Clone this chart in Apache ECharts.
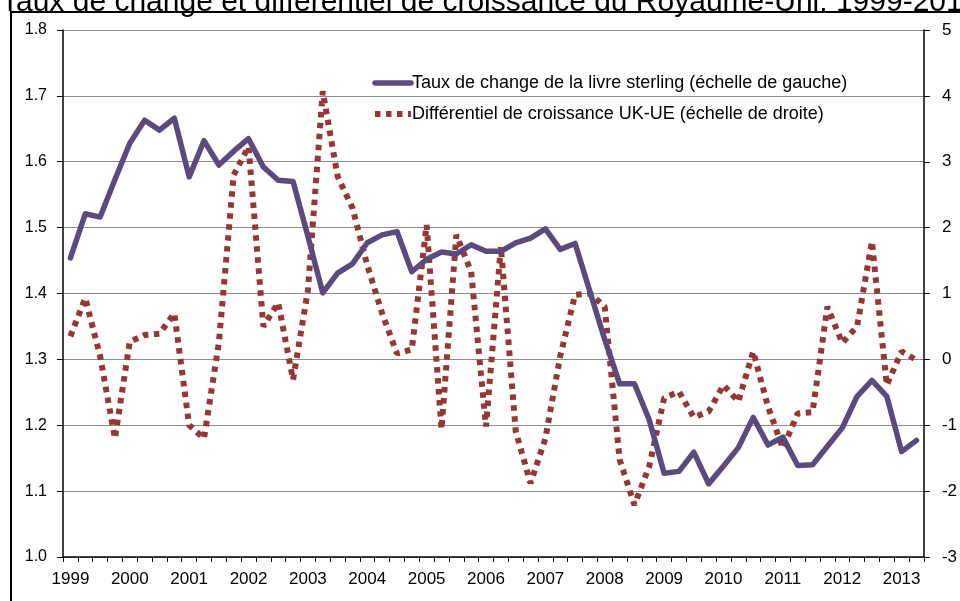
<!DOCTYPE html>
<html><head><meta charset="utf-8">
<script src="https://cdn.jsdelivr.net/npm/echarts@6/dist/echarts.min.js"></script>
<style>html,body{margin:0;padding:0;background:#fff;}#c{width:960px;height:601px;}</style>
</head><body><div id="c"></div>
<script>
const quarters = [
 '1999T1','1999T2','1999T3','1999T4','2000T1','2000T2','2000T3','2000T4',
 '2001T1','2001T2','2001T3','2001T4','2002T1','2002T2','2002T3','2002T4',
 '2003T1','2003T2','2003T3','2003T4','2004T1','2004T2','2004T3','2004T4',
 '2005T1','2005T2','2005T3','2005T4','2006T1','2006T2','2006T3','2006T4',
 '2007T1','2007T2','2007T3','2007T4','2008T1','2008T2','2008T3','2008T4',
 '2009T1','2009T2','2009T3','2009T4','2010T1','2010T2','2010T3','2010T4',
 '2011T1','2011T2','2011T3','2011T4','2012T1','2012T2','2012T3','2012T4',
 '2013T1','2013T2'];
const tauxChange = [
 1.454,1.521,1.516,1.573,1.628,1.663,1.648,1.666,
 1.577,1.632,1.595,1.616,1.635,1.592,1.572,1.570,
 1.487,1.401,1.431,1.445,1.477,1.489,1.494,1.433,
 1.452,1.463,1.460,1.474,1.464,1.464,1.477,1.484,
 1.498,1.467,1.476,1.403,1.330,1.263,1.263,1.208,
 1.127,1.130,1.159,1.111,1.138,1.166,1.212,1.170,
 1.182,1.139,1.140,1.168,1.196,1.244,1.268,1.244,
 1.160,1.177];
const differentiel = [
 0.35,0.93,0.05,-1.20,0.27,0.37,0.39,0.70,
 -1.00,-1.20,0.25,2.80,3.23,0.50,0.86,-0.31,
 1.05,4.07,2.78,2.30,1.43,0.70,0.09,0.15,
 2.04,-1.06,1.89,1.33,-1.02,1.71,-1.09,-1.88,
 -1.20,0.05,0.98,1.00,0.80,-1.52,-2.21,-1.62,
 -0.59,-0.49,-0.88,-0.79,-0.39,-0.64,0.12,-0.72,
 -1.35,-0.82,-0.80,0.80,0.25,0.50,1.79,-0.39,
 0.12,-0.01];
const leftTicks = {min:1.0, max:1.8, step:0.1};
const rightTicks = {min:-3, max:5, step:1};
const titleText = 'Taux de change et différentiel de croissance du Royaume-Uni: 1999-2013';
const seriesNames = ['Taux de change de la livre sterling (échelle de gauche)','Différentiel de croissance UK-UE (échelle de droite)'];

const FONT = '"Liberation Sans", Arial, sans-serif';
const PURPLE = '#5b4a7d', RED = '#953735';
const DOT = [5.5,5.5];
const chart = echarts.init(document.getElementById('c'), null, {renderer:'canvas'});
chart.setOption({
  backgroundColor:'#fff',
  animation:false,
  textStyle:{fontFamily:FONT},
  title:{text:titleText,left:1,top:-12,padding:0,textStyle:{fontSize:30,fontWeight:'normal',color:'#000',fontFamily:FONT}},
  graphic:[{type:'rect',z:-1,shape:{x:11,y:12,width:1100,height:1000},style:{fill:'none',stroke:'#000',lineWidth:2}}],
  legend:{
    orient:'vertical',left:372,top:74,padding:0,itemWidth:36,itemHeight:14,itemGap:13,
    itemStyle:{opacity:0},
    textStyle:{fontSize:18,color:'#000',fontFamily:FONT,padding:[0,0,0,-4]},
    data:[
      {name:seriesNames[0],lineStyle:{color:PURPLE,width:5.5,type:'solid'}},
      {name:seriesNames[1],lineStyle:{color:RED,width:6,type:DOT}}
    ]
  },
  grid:{left:63,right:33,top:30,bottom:44,containLabel:false},
  xAxis:{
    type:'category',data:quarters,boundaryGap:true,
    axisLine:{onZero:false,lineStyle:{color:'#000',width:1.5}},
    axisTick:{show:true,interval:0,length:5,lineStyle:{color:'#000'}},
    axisLabel:{interval:3,margin:14,fontSize:17,color:'#000',
      fontFamily:'"Liberation Sans Narrow","Arial Narrow","Liberation Sans",sans-serif',
      formatter:v=>v.slice(0,4)},
    splitLine:{show:false}
  },
  yAxis:[{
    type:'value',min:leftTicks.min,max:leftTicks.max,interval:leftTicks.step,position:'left',
    axisLine:{show:true,lineStyle:{color:'#000',width:1.5}},
    axisTick:{show:true,length:6,lineStyle:{color:'#000'}},
    axisLabel:{margin:16,fontSize:16,color:'#000',formatter:v=>v.toFixed(1)},
    splitLine:{show:true,lineStyle:{color:'#8c8c8c',width:1}}
  },{
    type:'value',min:rightTicks.min,max:rightTicks.max,interval:rightTicks.step,position:'right',
    axisLine:{show:true,lineStyle:{color:'#000',width:1.5}},
    axisTick:{show:true,length:6,lineStyle:{color:'#000'}},
    axisLabel:{margin:18,fontSize:17,color:'#000'},
    splitLine:{show:false}
  }],
  series:[{
    name:seriesNames[0],type:'line',yAxisIndex:0,data:tauxChange,
    symbol:'none',showSymbol:false,
    lineStyle:{color:PURPLE,width:5.5,cap:'round',join:'round'},
    itemStyle:{color:PURPLE},z:3
  },{
    name:seriesNames[1],type:'line',yAxisIndex:1,data:differentiel,
    symbol:'none',showSymbol:false,
    lineStyle:{color:RED,width:6,type:DOT,cap:'butt'},
    itemStyle:{color:RED},z:2
  }]
});
</script></body></html>
